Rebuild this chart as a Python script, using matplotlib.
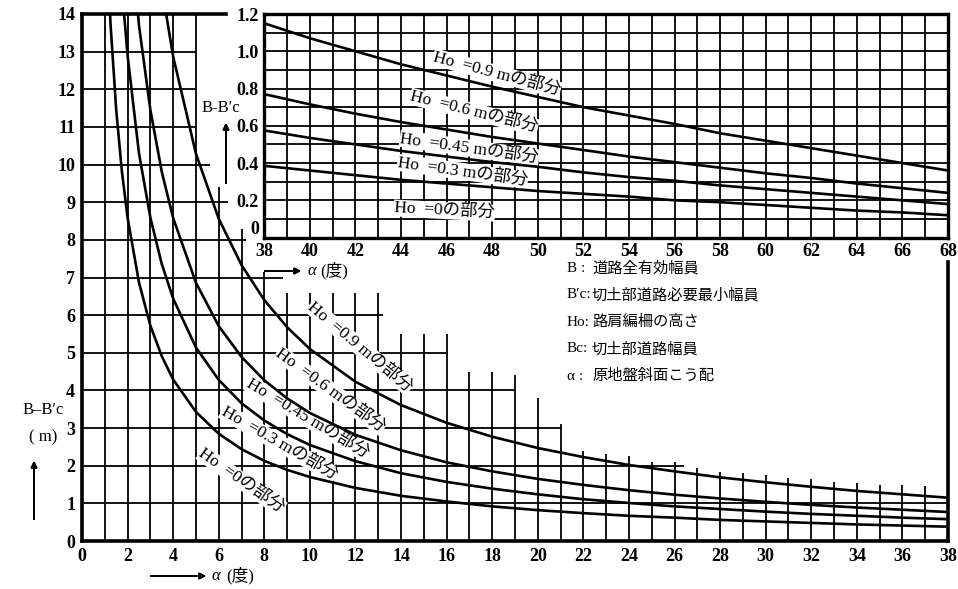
import numpy as np
import matplotlib.pyplot as plt

plt.rcParams['font.family'] = ['Liberation Serif', 'Noto Sans CJK JP']

# main chart, alpha 0-38 degrees, B-B'c in m
alpha = [1.0, 1.25, 1.5, 1.75, 2, 2.5, 3, 3.5, 4, 5, 6, 7, 8, 9, 10,
         12, 14, 16, 18, 20, 22, 24, 26, 28, 30, 32, 34, 36, 38]
ho_030 = [17.2, 13.75, 11.46, 9.82, 8.59, 6.87, 5.72, 4.91, 4.29, 3.43, 2.85, 2.44, 2.13, 1.89, 1.70,
          1.41, 1.20, 1.05, 0.92, 0.82, 0.74, 0.67, 0.62, 0.56, 0.52, 0.48, 0.44, 0.41, 0.38]
ho_045 = [25.8, 20.6, 17.2, 14.7, 12.9, 10.3, 8.59, 7.36, 6.44, 5.14, 4.28, 3.66, 3.20, 2.84, 2.55,
          2.12, 1.80, 1.57, 1.39, 1.24, 1.11, 1.01, 0.92, 0.85, 0.78, 0.72, 0.67, 0.62, 0.58]
ho_060 = [34.4, 27.5, 22.9, 19.6, 17.2, 13.7, 11.45, 9.81, 8.58, 6.86, 5.71, 4.89, 4.27, 3.79, 3.40,
          2.82, 2.41, 2.09, 1.85, 1.65, 1.49, 1.35, 1.23, 1.13, 1.04, 0.96, 0.89, 0.83, 0.77]
ho_090 = [51.6, 41.2, 34.4, 29.5, 25.8, 20.6, 17.2, 14.7, 12.87, 10.29, 8.56, 7.33, 6.40, 5.68, 5.10,
          4.23, 3.61, 3.14, 2.77, 2.47, 2.23, 2.02, 1.85, 1.69, 1.56, 1.44, 1.33, 1.24, 1.15]

# inset, alpha 38-68 degrees
alpha_in = [38, 40, 42, 44, 46, 48, 50, 52, 54, 56, 58, 60, 62, 64, 66, 68]
in_090 = [1.15, 1.07, 1.00, 0.93, 0.87, 0.81, 0.755, 0.70, 0.655, 0.61, 0.56, 0.52, 0.48, 0.44, 0.40, 0.36]
in_060 = [0.77, 0.715, 0.665, 0.62, 0.58, 0.54, 0.505, 0.47, 0.435, 0.405, 0.375, 0.345, 0.32, 0.29, 0.265, 0.24]
in_045 = [0.575, 0.535, 0.50, 0.465, 0.435, 0.405, 0.38, 0.35, 0.325, 0.305, 0.28, 0.26, 0.24, 0.22, 0.20, 0.18]
in_030 = [0.385, 0.36, 0.335, 0.31, 0.29, 0.27, 0.25, 0.235, 0.22, 0.20, 0.19, 0.175, 0.16, 0.145, 0.135, 0.12]

curve_labels = ['Ho  =0.9 mの部分', 'Ho  =0.6 mの部分', 'Ho  =0.45 mの部分', 'Ho  =0.3 mの部分', 'Ho  =0の部分']
legend_keys = ['B :', 'B′c:', 'Ho:', 'Bc:', 'α :']
legend_desc = ['道路全有効幅員', '切土部道路必要最小幅員', '路肩編柵の高さ', '切土部道路幅員', '原地盤斜面こう配']

# the grid of the main chart is drawn only part way (stepped)
grid_x = list(range(1, 38))
grid_x_top = [14, 14, 14, 14, 14, 9.4, 8.3, 7.15, 6.6, 6.6, 6.6, 6.6, 6.6, 5.5, 5.5, 5.5,
              4.5, 4.5, 4.4, 3.8, 3.1, 2.4, 2.3, 2.25, 2.1, 2.1, 1.93, 1.83, 1.8, 1.75,
              1.67, 1.65, 1.58, 1.55, 1.5, 1.5, 1.45]
grid_y = list(range(1, 14))
grid_y_right = [38, 26.4, 21, 19, 16, 13.2, 8.8, 7.2, 6.4, 5.6, 5, 5, 5]

W, H = 958, 589


def px(x, y):
    return x / W, 1 - y / H


fig = plt.figure(figsize=(W / 100, H / 100), dpi=100)
ax = fig.add_axes([82 / W, 48 / H, 866 / W, 527 / H])
ax.set_xlim(0, 38)
ax.set_ylim(0, 14)

for s in ax.spines.values():
    s.set_linewidth(2.6)
ax.spines['top'].set_bounds(0, 6.3)
ax.spines['right'].set_bounds(0, 7.4)

ax.vlines(grid_x, 0, grid_x_top, color='black', lw=1.3, zorder=1)
ax.hlines(grid_y, 0, grid_y_right, color='black', lw=1.3, zorder=1)

for ys in [ho_030, ho_045, ho_060, ho_090]:
    ax.plot(alpha, ys, color='black', lw=1.9, zorder=3)

ax.set_xticks(range(0, 39, 2))
ax.set_yticks(range(0, 15))
ax.tick_params(length=0, labelsize=13, pad=5)
for t in ax.get_xticklabels() + ax.get_yticklabels():
    t.set_fontweight('bold')

# labels along the curves
main_lab_pos = [(12.2, 5.15, -40), (10.9, 4.0, -36), (9.9, 3.25, -31), (8.65, 2.6, -30), (7.0, 1.6, -35)]
for lab, (x, y, r) in zip(curve_labels, main_lab_pos):
    ax.text(x, y, lab, rotation=r, fontsize=12.5, ha='center', va='center',
            rotation_mode='anchor', zorder=2.5,
            bbox=dict(facecolor='white', edgecolor='none', pad=0.3))

# inset chart
ax2 = ax.inset_axes([8, 8.06, 30, 5.94], transform=ax.transData)
ax2.set_xlim(38, 68)
ax2.set_ylim(0, 1.2)
ax2.set_facecolor('white')
for s in ax2.spines.values():
    s.set_linewidth(2.4)
ax2.vlines(np.arange(39, 68), 0, 1.2, color='black', lw=1.3, zorder=1)
ax2.hlines(np.arange(0.1, 1.15, 0.1), 38, 68, color='black', lw=1.3, zorder=1)
for ys in [in_090, in_060, in_045, in_030]:
    ax2.plot(alpha_in, ys, color='black', lw=1.9, zorder=3)
ax2.set_xticks(range(38, 69, 2))
ax2.set_yticks([0, 0.2, 0.4, 0.6, 0.8, 1.0, 1.2])
ax2.set_yticklabels(['0', '0.2', '0.4', '0.6', '0.8', '1.0', '1.2'])
ax2.tick_params(length=0, labelsize=13, pad=4)
for t in ax2.get_xticklabels() + ax2.get_yticklabels():
    t.set_fontweight('bold')
ax2.get_yticklabels()[0].set_verticalalignment('bottom')

in_lab_pos = [(48.2, 0.88, -15), (47.2, 0.675, -14), (47.0, 0.48, -8), (46.7, 0.355, -8), (45.9, 0.145, -3)]
for lab, (x, y, r) in zip(curve_labels, in_lab_pos):
    ax2.text(x, y, lab, rotation=r, fontsize=12.5, ha='center', va='center',
             rotation_mode='anchor', zorder=2.5,
             bbox=dict(facecolor='white', edgecolor='none', pad=0.3))

# axis titles with arrows
arrow = dict(arrowstyle='-|>', color='black', lw=1.3, mutation_scale=9)
fig.text(*px(43, 410), 'B–B′c', fontsize=12, ha='center', va='center')
fig.text(*px(43, 437), '( m)', fontsize=12, ha='center', va='center')
fig.add_artist(plt.annotate('', xy=px(34, 458), xytext=px(34, 522), xycoords='figure fraction',
                            textcoords='figure fraction', arrowprops=arrow))

fig.add_artist(plt.annotate('', xy=px(209, 576), xytext=px(148, 576), xycoords='figure fraction',
                            textcoords='figure fraction', arrowprops=arrow))
fig.text(*px(212, 576), 'α', fontsize=12, fontstyle='italic', ha='left', va='center')
fig.text(*px(226, 576), '(度)', fontsize=12, ha='left', va='center')

fig.text(*px(221, 108), 'B-B′c', fontsize=12, ha='center', va='center')
fig.add_artist(plt.annotate('', xy=px(226, 120), xytext=px(226, 186), xycoords='figure fraction',
                            textcoords='figure fraction', arrowprops=arrow))

fig.add_artist(plt.annotate('', xy=px(304, 271), xytext=px(262, 271), xycoords='figure fraction',
                            textcoords='figure fraction', arrowprops=arrow))
fig.text(*px(307, 271), 'α', fontsize=12, fontstyle='italic', ha='left', va='center')
fig.text(*px(320, 271), '(度)', fontsize=12, ha='left', va='center')

# key
for i, (k, d) in enumerate(zip(legend_keys, legend_desc)):
    y = 268 + 27 * i
    fig.text(*px(567, y), k, fontsize=11, ha='left', va='center')
    fig.text(*px(592, y), d, fontsize=11, ha='left', va='center')

fig.savefig('out.png', dpi=100, facecolor='white')
